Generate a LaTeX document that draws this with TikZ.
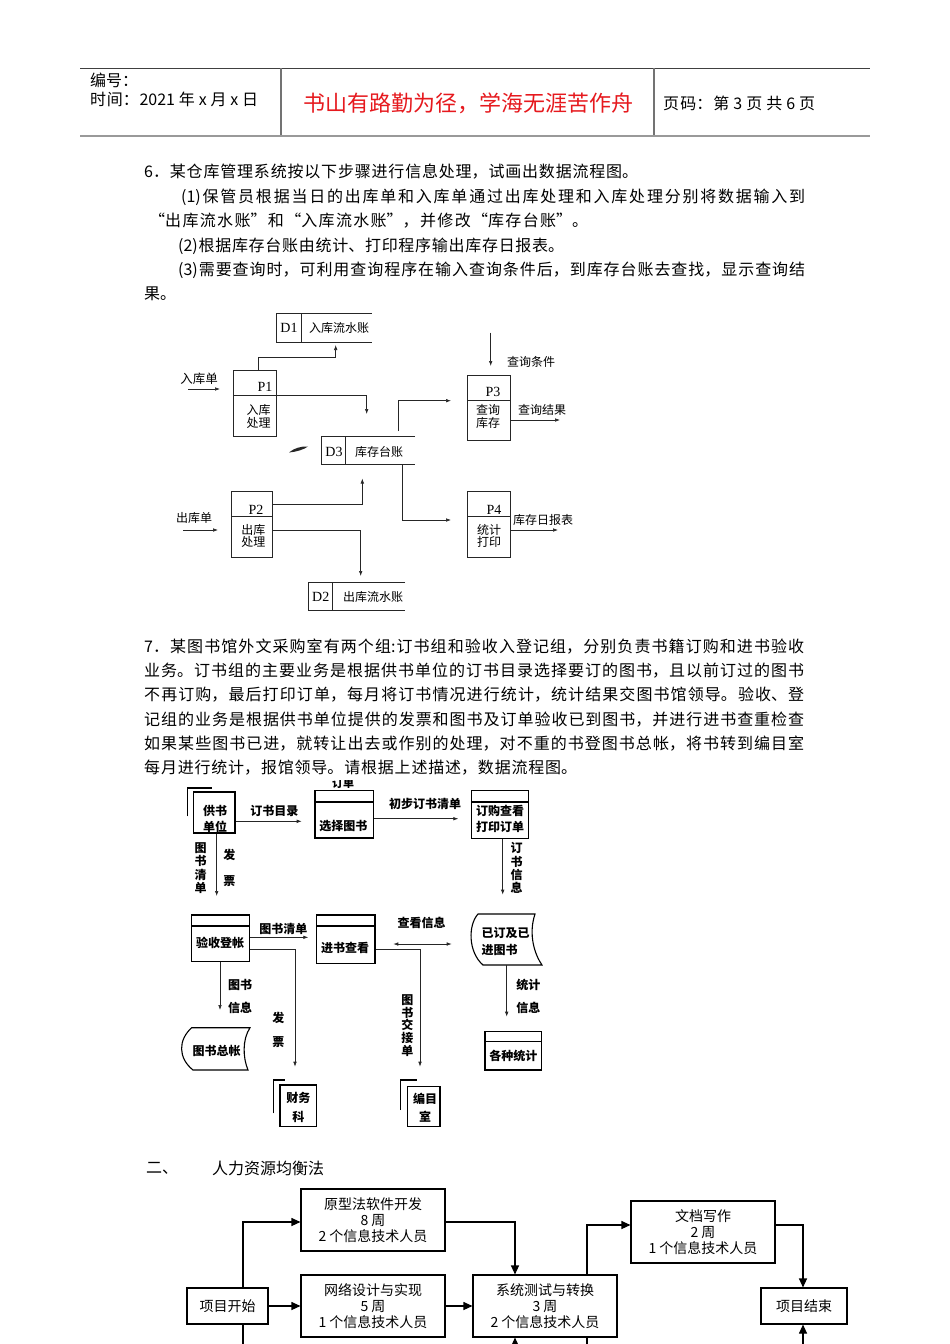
\documentclass[tikz,border=0pt]{standalone}
\usepackage{fontspec}
\setmainfont{Noto Sans CJK SC}
\newfontfamily\serifL{Liberation Serif}
\usetikzlibrary{arrows.meta}
\definecolor{hred}{RGB}{230,25,30}
\XeTeXlinebreaklocale "zh"
\XeTeXlinebreakskip=0pt plus 5pt minus 0.3pt
\newcommand{\jl}[2]{\parbox{#1pt}{\parindent=0pt\parfillskip=0pt\tolerance=10000\hbadness=10000\emergencystretch=0pt\leftskip=0pt\rightskip=0pt\relax #2}}
\newcommand{\fs}[1]{\fontsize{#1}{#1}\selectfont}
\begin{document}
\begin{tikzpicture}[x=1pt,y=-1pt,
 tx/.style={inner sep=0pt,anchor=west,font=\fs{16}},
 lab/.style={inner sep=0pt,font=\fs{12}},
 serl/.style={inner sep=0pt,font=\serifL\fs{14}},
 aline/.style={line width=0.65pt,draw=black!85},
 arr/.style={aline,-{Latex[length=5pt,width=3.6pt]}},
 obox/.style={draw=black!85,line width=0.8pt,inner sep=0pt},
 ghost/.style={inner sep=0pt},
 blab/.style={inner sep=0pt,font=\fs{12}\bfseries},
 vlab/.style={inner sep=0pt,align=center,font=\fontsize{12}{13.3}\selectfont\bfseries},
 bbox/.style={draw=black,line width=1.1pt,inner sep=0pt},
 bline/.style={draw=black,line width=1.1pt},
 barr/.style={line width=0.7pt,draw=black!85,-{Latex[length=5pt,width=3.6pt]}},
 fbox/.style={draw=black,line width=1.1pt,inner sep=0pt,align=center,font=\fontsize{14}{16}\selectfont},
 farr/.style={line width=1.1pt,-{Triangle[length=9pt,width=8pt]}},
 fline/.style={line width=1.1pt}
]
\useasboundingbox (0,0) rectangle (950,1344);
\fill[white] (0,0) rectangle (950,1344);

% ---------- header ----------
\draw[line width=0.9pt,black!75] (80,68) -- (870,68);
\draw[line width=1.8pt,black!40] (80,135.6) -- (870,135.6);
\draw[line width=1.1pt,black!55] (281,68) -- (281,134.7);
\draw[line width=1.1pt,black!55] (654,68) -- (654,134.7);
\node[tx] (h1) at (90,80) {编号：};
\node[tx] (h2) at (90,99) {\jl{168}{时间：2021 年 x 月 x 日}};
\node[inner sep=0pt,font=\fs{22},text=hred] (h3) at (468.5,103) {书山有路勤为径，学海无涯苦作舟};
\node[tx] (h4) at (663,103) {\jl{152}{页码：第 3 页 共 6 页}};

% ---------- text block 1 ----------
\node[tx] (t1) at (144,172) {\jl{494}{6．某仓库管理系统按以下步骤进行信息处理，试画出数据流程图。}};
\node[tx] (t2) at (181,197) {\jl{624}{(1)保管员根据当日的出库单和入库单通过出库处理和入库处理分别将数据输入到}};
\node[tx] (t3) at (149,221) {\jl{439}{“出库流水账”和“入库流水账”，并修改“库存台账”。}};
\node[tx] (t4) at (178,246) {\jl{386}{(2)根据库存台账由统计、打印程序输出库存日报表。}};
\node[tx] (t5) at (178,270) {\jl{627}{(3)需要查询时，可利用查询程序在输入查询条件后，到库存台账去查找，显示查询结}};
\node[tx] (t6) at (144,294) {果。};

% ---------- diagram 1 ----------
\node[ghost,minimum width=95pt,minimum height=27.7pt] (D1) at (324.2,327.85) {};
\draw[obox] (D1.north east) -- (D1.north west) -- (D1.south west) -- (D1.south east);
\draw[obox] (301.7,0 |- D1.north) -- (301.7,0 |- D1.south);
\node[serl] (D1n) at (289,328) {D1};
\node[lab] (D1t) at (339,328) {入库流水账};

\node[ghost,minimum width=93.3pt,minimum height=27.3pt] (D3) at (368.35,450.35) {};
\draw[obox] (D3.north east) -- (D3.north west) -- (D3.south west) -- (D3.south east);
\draw[obox] (345.5,0 |- D3.north) -- (345.5,0 |- D3.south);
\node[serl] (D3n) at (334,451.5) {D3};
\node[lab] (D3t) at (379,451.5) {库存台账};

\node[ghost,minimum width=96.7pt,minimum height=27.7pt] (D2) at (356.65,596.15) {};
\draw[obox] (D2.north east) -- (D2.north west) -- (D2.south west) -- (D2.south east);
\draw[obox] (332.7,0 |- D2.north) -- (332.7,0 |- D2.south);
\node[serl] (D2n) at (320.7,597) {D2};
\node[lab] (D2t) at (373,597) {出库流水账};

\node[obox,minimum width=43.4pt,minimum height=66pt] (P1) at (255,403.7) {};
\node[serl] (P1n) at (265,387) {P1};
\node[lab] (P1a) at (258.7,410) {入库};
\node[lab] (P1b) at (258.7,423.3) {处理};

\node[obox,minimum width=40.6pt,minimum height=66pt] (P2) at (252,524.7) {};
\draw[obox] (P2.west |- 0,516.7) -- (P2.east |- 0,516.7);
\node[serl] (P2n) at (256,510) {P2};
\node[lab] (P2a) at (253.3,530) {出库};
\node[lab] (P2b) at (253.3,541.7) {处理};

\node[obox,minimum width=42.3pt,minimum height=64.3pt] (P3) at (488.85,407.85) {};
\draw[obox] (P3.west |- 0,400) -- (P3.east |- 0,400);
\node[serl] (P3n) at (493,391.7) {P3};
\node[lab] (P3a) at (488,410) {查询};
\node[lab] (P3b) at (488,423.3) {库存};

\node[obox,minimum width=42.3pt,minimum height=66pt] (P4) at (488.85,524.7) {};
\draw[obox] (P4.west |- 0,516.7) -- (P4.east |- 0,516.7);
\node[serl] (P4n) at (494,510) {P4};
\node[lab] (P4a) at (489,530) {统计};
\node[lab] (P4b) at (489,541.7) {打印};

\node[lab,font=\fs{12.5}] (l1) at (199,378.3) {入库单};
\node[lab] (l2) at (194,518.3) {出库单};
\node[lab] (l3) at (531,361.7) {查询条件};
\node[lab] (l4) at (542,410) {查询结果};
\node[lab] (l5) at (543,520) {库存日报表};

\fill[black!85] (289,452.5) .. controls (294,448) and (302,446) .. (308,446.5) .. controls (304,449.5) and (296,452) .. (289,452.5) -- cycle;

\draw[arr] (188,389) -- (220,389);
\draw[arr] (258.3,0 |- P1.north) -- (258.3,357.7) -- (335.7,357.7) -- (335.7,345);
\draw[arr] (P1.west |- 0,395.7) -- (366.7,395.7) -- (366.7,414);
\draw[arr] (398.3,431) -- (398.3,400.7) -- (451,400.7);
\draw[arr] (490.7,332.7) -- (490.7,366);
\draw[arr] (P3.east |- 0,420) -- (560,420);
\draw[arr] (183,530) -- (218,530);
\draw[arr] (P2.east |- 0,504.3) -- (362.3,504.3) -- (362.3,478.5);
\draw[arr] (P2.east |- 0,530.7) -- (360.7,530.7) -- (360.7,576);
\draw[arr] (402.3,0 |- D3.south) -- (402.3,520) -- (451,520);
\draw[arr] (P4.east |- 0,530) -- (558,530);

% ---------- text block 2 ----------
\node[tx] (u1) at (144,647) {\jl{660}{7．某图书馆外文采购室有两个组:订书组和验收入登记组，分别负责书籍订购和进书验收}};
\node[tx] (u2) at (144,671) {\jl{660}{业务。订书组的主要业务是根据供书单位的订书目录选择要订的图书，且以前订过的图书}};
\node[tx] (u3) at (144,695) {\jl{660}{不再订购，最后打印订单，每月将订书情况进行统计，统计结果交图书馆领导。验收、登}};
\node[tx] (u4) at (144,720) {\jl{660}{记组的业务是根据供书单位提供的发票和图书及订单验收已到图书，并进行进书查重检查}};
\node[tx] (u5) at (144,744) {\jl{660}{如果某些图书已进，就转让出去或作别的处理，对不重的书登图书总帐，将书转到编目室}};
\node[tx] (u6) at (144,768) {\jl{433}{每月进行统计，报馆领导。请根据上述描述，数据流程图。}};

% ---------- diagram 2 ----------
\begin{scope}
\clip (310,780.5) rectangle (380,790);
\node[blab,font=\fs{11}\bfseries] (dd) at (343,783) {订单};
\end{scope}

\node[bbox,minimum width=41.7pt,minimum height=41pt] (gs) at (214.15,812.5) {};
\draw[bline] (187.3,816.3) -- (187.3,788) -- (211.7,788);
\node[vlab,font=\fontsize{12}{16}\selectfont\bfseries] (gst) at (215,818.5) {供书\\单位};

\node[bbox,minimum width=58.3pt,minimum height=47.3pt] (xz) at (344.15,814.35) {};
\draw[bline] (xz.west |- 0,802) -- (xz.east |- 0,802);
\node[blab] (xzt) at (343.3,825.7) {选择图书};

\node[bbox,minimum width=56.6pt,minimum height=48pt] (dg) at (500,814.7) {};
\draw[bline] (dg.west |- 0,802) -- (dg.east |- 0,802);
\node[vlab,font=\fontsize{12}{16}\selectfont\bfseries] (dgt) at (500,819.3) {订购查看\\打印订单};

\node[bbox,minimum width=57.6pt,minimum height=46.7pt] (ys) at (220.5,938.35) {};
\draw[bline] (ys.west |- 0,926) -- (ys.east |- 0,926);
\node[blab] (yst) at (220,943.3) {验收登帐};

\node[bbox,minimum width=58.3pt,minimum height=48.3pt] (jc) at (345.85,939.15) {};
\draw[bline] (jc.west |- 0,926) -- (jc.east |- 0,926);
\node[blab] (jct) at (345,947.7) {进书查看};

\node[ghost,minimum width=70pt,minimum height=51pt] (yd) at (507,939.5) {};
\draw[bline] (478,914) -- (535,914) .. controls (528,935) and (535,955) .. (542,965) -- (483,965) .. controls (468,952) and (468,925) .. (478,914) -- cycle;
\node[blab] (ydt1) at (505.5,933) {已订及已};
\node[blab] (ydt2) at (499.5,950) {进图书};

\node[ghost,minimum width=70pt,minimum height=42pt] (zz) at (215,1049) {};
\draw[bline] (191.7,1027.7) -- (250,1027.7) .. controls (242,1040) and (243,1058) .. (248,1070) -- (193,1070) .. controls (178,1058) and (178,1040) .. (191.7,1027.7) -- cycle;
\node[blab] (zzt) at (216.7,1051) {图书总帐};

\node[bbox,minimum width=36.7pt,minimum height=41.7pt] (cw) at (298.35,1105.85) {};
\draw[bline] (273.3,1113.3) -- (273.3,1080) -- (285,1080);
\node[vlab,font=\fontsize{12}{18.4}\selectfont\bfseries] (cwt) at (298.3,1107.5) {财务\\科};

\node[bbox,minimum width=32.7pt,minimum height=40pt] (bm) at (423.65,1106.7) {};
\draw[bline] (400.7,1110) -- (400.7,1080) -- (416.7,1080);
\node[vlab,font=\fontsize{12}{18.4}\selectfont\bfseries] (bmt) at (425,1107.5) {编目\\室};

\node[bbox,minimum width=56.7pt,minimum height=38.3pt] (gz) at (513.35,1050.85) {};
\draw[bline] (gz.west |- 0,1041.7) -- (gz.east |- 0,1041.7);
\node[blab] (gzt) at (513.3,1056) {各种统计};

\draw[barr] (gs.east |- 0,821.3) -- (301.7,821.3);
\node[blab] (m1) at (274.3,811.3) {订书目录};
\draw[barr] (xz.east |- 0,818.7) -- (458.3,818.7);
\node[blab] (m2) at (425,804) {初步订书清单};
\draw[barr] (502.7,0 |- dg.south) -- (502.7,894.7);
\node[vlab] (m3) at (516.7,868) {订\\书\\信\\息};
\draw[barr] (216.7,0 |- gs.south) -- (216.7,896);
\node[vlab] (m4) at (200.7,868) {图\\书\\清\\单};
\node[vlab,font=\fontsize{12}{26}\selectfont\bfseries] (m5) at (229.3,868.3) {发\\票};
\draw[barr] (ys.east |- 0,937.3) -- (308.3,937.3);
\node[blab] (m6) at (283.3,929.3) {图书清单};
\draw[line width=0.7pt,draw=black!85,{Latex[length=5pt,width=3.6pt]}-{Latex[length=5pt,width=3.6pt]}] (393.3,944) -- (451.7,944);
\node[blab] (m7) at (421.7,923.3) {查看信息};
\draw[barr] (220,0 |- ys.south) -- (220,1010);
\node[blab] (m8) at (240,985) {图书};
\node[blab] (m9) at (240,1008.3) {信息};
\draw[barr] (ys.east |- 0,949.3) -- (295,949.3) -- (295,1066.7);
\node[blab] (m10) at (278.3,1018.3) {发};
\node[blab] (m11) at (278.3,1041.7) {票};
\draw[barr] (jc.east |- 0,949.3) -- (420,949.3) -- (420,1066.7);
\node[vlab,font=\fontsize{12}{12.7}\selectfont\bfseries] (m12) at (407.3,1025.4) {图\\书\\交\\接\\单};
\draw[barr] (506.7,0 |- yd.south) -- (506.7,1016.7);
\node[blab] (m13) at (528.3,985) {统计};
\node[blab] (m14) at (528.3,1008.3) {信息};

% ---------- section 2 ----------
\node[tx] (s1) at (146,1168) {二、};
\node[tx] (s2) at (212,1168) {人力资源均衡法};

\node[fbox,minimum width=81pt,minimum height=36pt] (st) at (227.5,1306) {项目开始};
\node[fbox,minimum width=144pt,minimum height=62pt] (yx) at (373,1220) {原型法软件开发\\8 周\\2 个信息技术人员};
\node[fbox,minimum width=144pt,minimum height=62pt] (wl) at (373,1306) {网络设计与实现\\5 周\\1 个信息技术人员};
\node[fbox,minimum width=144pt,minimum height=62pt] (xt) at (545,1306) {系统测试与转换\\3 周\\2 个信息技术人员};
\node[fbox,minimum width=144pt,minimum height=62pt] (wd) at (703,1232) {文档写作\\2 周\\1 个信息技术人员};
\node[fbox,minimum width=86pt,minimum height=36pt] (en) at (804,1306) {项目结束};

\draw[farr] (243,0 |- st.north) -- (243,1222) -- (yx.west |- 0,1222);
\draw[farr] (st.east) -- (wl.west |- st.east);
\draw[fline] (243,0 |- st.south) -- (243,1344);
\draw[farr] (yx.east |- 0,1222) -- (515,1222) -- (515,0 |- xt.north);
\draw[farr] (wl.east) -- (xt.west);
\draw[farr] (587,0 |- xt.north) -- (587,1225) -- (wd.west |- 0,1225);
\draw[farr] (wd.east |- 0,1225) -- (803,1225) -- (803,0 |- en.north);
\draw[farr] (515,1344) -- (515,0 |- xt.south);
\draw[fline] (587,0 |- xt.south) -- (587,1344);
\draw[farr] (803,1344) -- (803,0 |- en.south);
\end{tikzpicture}
\end{document}
